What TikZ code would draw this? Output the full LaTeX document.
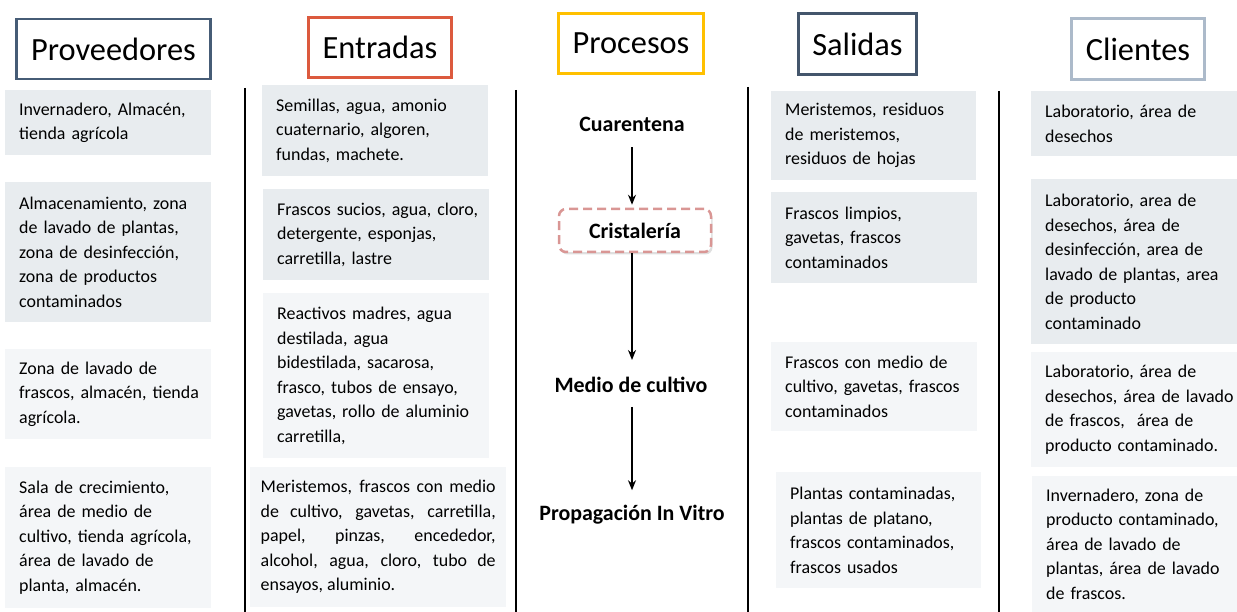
\documentclass[tikz,border=0pt]{standalone}
\usepackage{fontspec}
\setmainfont{Carlito}
\usetikzlibrary{arrows.meta,shadows}
\definecolor{provcol}{RGB}{70,92,118}
\definecolor{entcol}{RGB}{220,90,62}
\definecolor{proccol}{RGB}{255,192,0}
\definecolor{salcol}{RGB}{68,86,108}
\definecolor{clicol}{RGB}{172,186,202}
\definecolor{celldark}{RGB}{232,236,239}
\definecolor{celllite}{RGB}{244,246,248}
\definecolor{rosecol}{RGB}{217,150,148}
\tikzset{
  hdr/.style={draw,line width=2.5bp,fill=white,inner sep=0pt,font=\fontsize{32.5}{36}\selectfont},
  basecell/.style={anchor=north west,inner ysep=0pt,font=\fontsize{18}{24.6}\selectfont},
  cell/.style={basecell,fill=celldark,inner xsep=3bp,align=left,execute at begin node={\leftskip=11bp\relax}},
  litecell/.style={cell,fill=celllite},
  proc/.style={font=\bfseries\fontsize{22}{26}\selectfont,inner sep=2bp},
  flow/.style={-{Stealth[length=10bp,width=8bp]},line width=1.6bp},
  sepline/.style={line width=2.6bp}
}
\begin{document}
\begin{tikzpicture}[x=1bp,y=1bp]
\useasboundingbox (0,0) rectangle (1237,-612);

\node (Hprov) at (113.5,-49)[hdr,draw=provcol,minimum width=194bp,minimum height=60bp] {Proveedores};
\node (Hent) at (380,-47.5)[hdr,draw=entcol,minimum width=143bp,minimum height=60bp] {Entradas};
\node (Hproc) at (631,-43.5)[hdr,draw=proccol,minimum width=145bp,minimum height=60bp] {Procesos};
\node (Hsal) at (857.5,-44)[hdr,draw=salcol,minimum width=118bp,minimum height=61bp] {Salidas};
\node (Hcli) at (1138,-49)[hdr,draw=clicol,minimum width=133bp,minimum height=61bp] {Clientes};

\draw [sepline] (245,-88) -- (245,-612);
\draw [sepline] (516,-90) -- (516,-612);
\draw [sepline] (748,-87) -- (748,-612);
\draw [sepline] (999,-91) -- (999,-612);

\node (P1) at (5,-90)[cell,text width=200bp,minimum height=65bp] {Invernadero, Almacén,\\tienda agrícola};
\node (P2) at (5,-182)[cell,text width=200bp,minimum height=140bp] {Almacenamiento, zona\\de lavado de plantas,\\zona de desinfección,\\zona de productos\\contaminados};
\node (P3) at (5,-349)[litecell,text width=200bp,minimum height=90bp] {Zona de lavado de\\frascos, almacén, tienda\\agrícola.};
\node (P4) at (5,-467)[litecell,text width=200bp,minimum height=141bp] {Sala de crecimiento,\\área de medio de\\cultivo, tienda agrícola,\\área de lavado de\\planta, almacén.};

\node (E1) at (262,-85)[cell,text width=220bp,minimum height=91bp] {Semillas, agua, amonio\\cuaternario, algoren,\\fundas, machete.};
\node (E2) at (263,-189)[cell,text width=220bp,minimum height=91bp] {Frascos sucios, agua, cloro,\\detergente, esponjas,\\carretilla, lastre};
\node (E3) at (263,-293)[litecell,text width=220bp,minimum height=165bp] {Reactivos madres, agua\\destilada, agua\\bidestilada, sacarosa,\\frasco, tubos de ensayo,\\gavetas, rollo de aluminio\\carretilla,};
\node (E4) at (250,-467)[basecell,fill=celllite,inner xsep=10.5bp,text width=235bp,minimum height=140bp,align=justify,execute at begin node={\hyphenpenalty=10000\relax}] {Meristemos, frascos con medio\linebreak de cultivo, gavetas, carretilla,\linebreak papel, pinzas, encededor,\linebreak alcohol, agua, cloro, tubo de\linebreak ensayos, aluminio.};

\node (Q1) at (632,-124)[proc] {Cuarentena};
\node (Q2) at (635,-230.5)[proc,draw=rosecol,dashed,dash pattern=on 9bp off 5bp,line width=2.5bp,rounded corners=7bp,fill=white,minimum width=152bp,minimum height=43bp,drop shadow={opacity=0.25,shadow xshift=1.5bp,shadow yshift=-2.5bp}] {Cristalería};
\node (Q3) at (631,-385)[proc] {Medio de cultivo};
\node (Q4) at (632,-515)[proc] {Propagación In Vitro};
\draw [flow,shorten <=14bp,shorten >=3bp] (Q1.south) -- (Q1.south |- Q2.north);
\draw [flow,shorten >=15bp] (Q1.south |- Q2.south) -- (Q1.south |- Q3.north);
\draw [flow,shorten <=12bp,shorten >=13bp] (Q1.south |- Q3.south) -- (Q1.south |- Q4.north);

\node (S1) at (771,-91)[cell,text width=199bp,minimum height=89bp] {Meristemos, residuos\\de meristemos,\\residuos de hojas};
\node (S2) at (771,-192)[cell,text width=200bp,minimum height=91bp] {Frascos limpios,\\gavetas, frascos\\contaminados};
\node (S3) at (771,-342)[litecell,text width=200bp,minimum height=89bp] {Frascos con medio de\\cultivo, gavetas, frascos\\contaminados};
\node (S4) at (776,-472)[litecell,text width=199bp,minimum height=116bp] {Plantas contaminadas,\\plantas de platano,\\frascos contaminados,\\frascos usados};

\node (C1) at (1031,-91)[cell,text width=200bp,minimum height=65bp] {Laboratorio, área de\\desechos};
\node (C2) at (1031,-179)[cell,text width=200bp,minimum height=165bp] {Laboratorio, area de\\desechos, área de\\desinfección, area de\\lavado de plantas, area\\de producto\\contaminado};
\node (C3) at (1031,-352)[litecell,text width=200bp,minimum height=115bp] {Laboratorio, área de\\desechos, área de lavado\\de frascos,\ \ área de\\producto contaminado.};
\node (C4) at (1032,-476)[litecell,text width=199bp,minimum height=136bp] {Invernadero, zona de\\producto contaminado,\\área de lavado de\\plantas, área de lavado\\de frascos.};
\end{tikzpicture}
\end{document}
